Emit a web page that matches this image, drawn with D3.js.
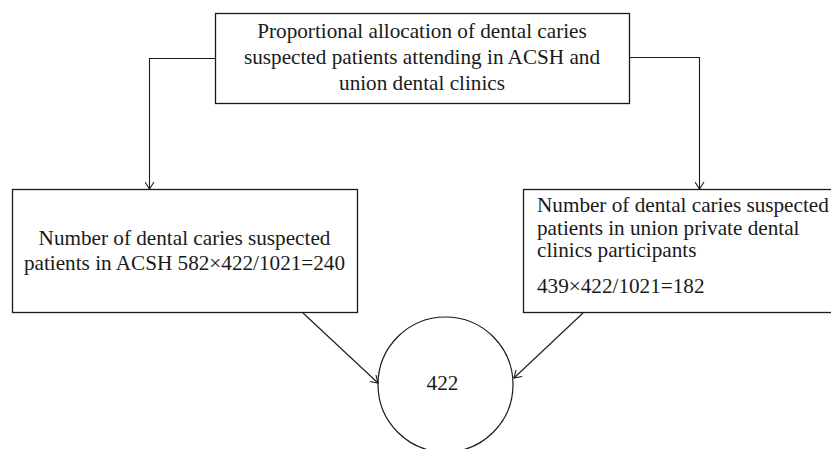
<!DOCTYPE html>
<html>
<head>
<meta charset="utf-8">
<script src="https://cdn.jsdelivr.net/npm/d3@7"></script>
<style>
  html, body { margin: 0; padding: 0; background: #fff; }
  svg { display: block; }
</style>
</head>
<body>
<div id="chart"></div>
<script>
// DATA
const topLabel = ["Proportional allocation of dental caries",
                  "suspected patients attending in ACSH and",
                  "union dental clinics"];
const leftLabel = ["Number of dental caries suspected",
                   "patients in ACSH 582\u00d7422/1021=240"];
const rightLabel = ["Number of dental caries suspected",
                    "patients in union private dental",
                    "clinics participants"];
const rightFormula = ["439\u00d7422/1021=182"];
const totalLabel = ["422"];

// LAYOUT (pixels)
const width = 831, height = 449;
const BOX = {
    top:   {x0: 215, y0: 13,  x1: 629, y1: 103},
    left:  {x0: 12,  y0: 189, x1: 357, y1: 312},
    right: {x0: 523, y0: 189, x1: 840, y1: 312}
};
const CIRCLE = {cx: 445.5, cy: 384.5, r: 67.5};
const fontSize = 21.2;
const FONT = "'Liberation Serif', 'Times New Roman', Times, serif";
const INK = "#1a1a1a";

const svg = d3.select("#chart").append("svg")
    .attr("width", width)
    .attr("height", height);

// arrowhead (open V)
svg.append("defs").append("marker")
    .attr("id", "arrow")
    .attr("viewBox", "-8 -5 9 10")
    .attr("refX", 0).attr("refY", 0)
    .attr("markerWidth", 9).attr("markerHeight", 10)
    .attr("markerUnits", "userSpaceOnUse")
    .attr("orient", "auto")
  .append("path")
    .attr("d", "M-7,-4.5L0,0L-7,4.5")
    .attr("fill", "none")
    .attr("stroke", INK)
    .attr("stroke-width", 1.1);

const line = d3.line();

// boxes
svg.selectAll("rect.box")
    .data(Object.values(BOX))
    .join("rect")
    .attr("class", "box")
    .attr("x", d => d.x0 + 0.5)
    .attr("y", d => d.y0 + 0.5)
    .attr("width", d => d.x1 - d.x0)
    .attr("height", d => d.y1 - d.y0)
    .attr("fill", "#fff")
    .attr("stroke", INK)
    .attr("stroke-width", 1.3);

// circle
svg.append("circle")
    .attr("cx", CIRCLE.cx).attr("cy", CIRCLE.cy).attr("r", CIRCLE.r)
    .attr("fill", "#fff")
    .attr("stroke", INK)
    .attr("stroke-width", 1.2);

// connectors
const connectors = [
    [[BOX.top.x0, 58.5], [149.5, 58.5], [149.5, BOX.left.y0]],
    [[BOX.top.x1, 57.5], [699.5, 57.5], [699.5, BOX.right.y0]],
    [[303, BOX.left.y1 + 1], [CIRCLE.cx - CIRCLE.r, 383]],
    [[583, BOX.right.y1 + 1], [CIRCLE.cx + CIRCLE.r + 1, 378]]
];
svg.selectAll("path.link")
    .data(connectors)
    .join("path")
    .attr("class", "link")
    .attr("d", line)
    .attr("fill", "none")
    .attr("stroke", INK)
    .attr("stroke-width", 1.1)
    .attr("marker-end", "url(#arrow)");

// text blocks
function block(lines, x, y0, dy, anchor) {
    svg.append("g").selectAll("text")
        .data(lines)
        .join("text")
        .attr("x", x)
        .attr("y", (d, i) => y0 + i * dy)
        .attr("text-anchor", anchor)
        .attr("font-family", FONT)
        .attr("font-size", fontSize)
        .attr("fill", INK)
        .text(d => d);
}

block(topLabel, (BOX.top.x0 + BOX.top.x1) / 2, 38, 26, "middle");
block(leftLabel, (BOX.left.x0 + BOX.left.x1) / 2, 245, 25, "middle");
block(rightLabel, 537, 212, 22.5, "start");
block(rightFormula, 537, 293, 0, "start");
block(totalLabel, CIRCLE.cx - 3, 390, 0, "middle");
</script>
</body>
</html>
